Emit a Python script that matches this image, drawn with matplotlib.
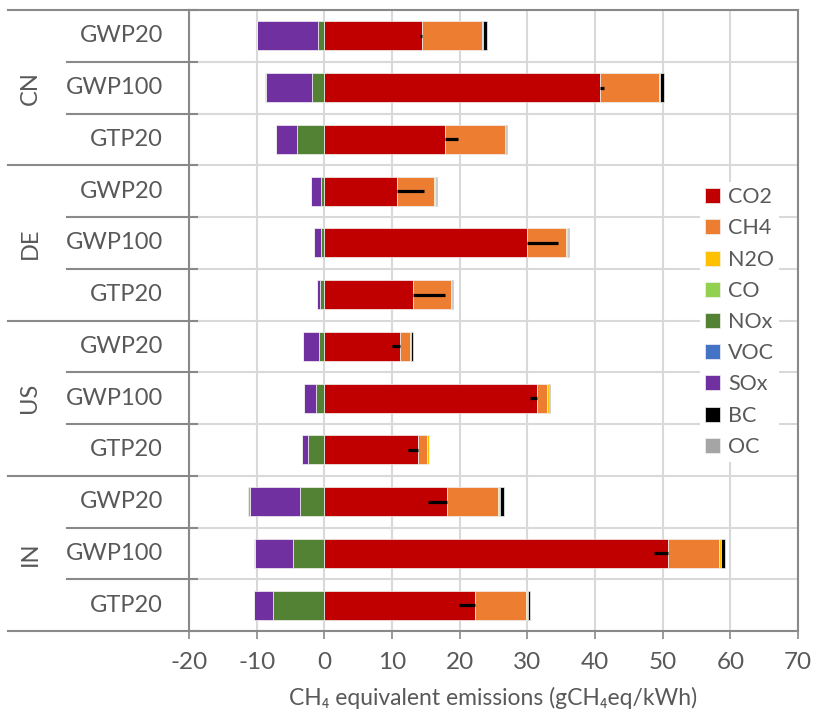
import matplotlib
matplotlib.use("Agg")
import matplotlib.pyplot as plt
import numpy as np
from matplotlib.lines import Line2D
from matplotlib.transforms import blended_transform_factory

plt.rcParams['font.family'] = ['Lato', 'DejaVu Sans']

groups = ["CN", "DE", "US", "IN"]
metrics = ["GWP20", "GWP100", "GTP20"]
series_names = ["CO2", "CH4", "N2O", "CO", "NOx", "VOC", "SOx", "BC", "OC"]
series_colors = ["#C00000", "#ED7D31", "#FFC000", "#92D050", "#548235",
                 "#4472C4", "#7030A0", "#000000", "#A5A5A5"]

# rows top to bottom: CN GWP20, CN GWP100, CN GTP20, DE ..., US ..., IN ...
co2 = [14.5, 40.7, 17.9, 10.7, 30.0, 13.15, 11.2, 31.4, 13.8, 18.1, 50.8, 22.3]
ch4 = [8.8, 8.8, 8.8, 5.5, 5.75, 5.5, 1.4, 1.5, 1.4, 7.55, 7.5, 7.55]
n2o = [0.05, 0.1, 0.05, 0.2, 0.15, 0.2, 0.15, 0.25, 0.2, 0.1, 0.25, 0.15]
co = [0.02, 0.02, 0.01, 0.03, 0.02, 0.02, 0.02, 0.02, 0.01, 0.1, 0.05, 0.02]
nox = [-0.89, -1.76, -3.98, -0.5, -0.55, -0.64, -0.79, -1.22, -2.4, -3.55, -4.62, -7.64]
voc = [0.03, 0.03, 0.02, 0.05, 0.04, 0.05, 0.03, 0.03, 0.02, 0.05, 0.05, 0.03]
sox = [-9.07, -6.85, -3.15, -1.42, -0.97, -0.44, -2.3, -1.78, -0.9, -7.38, -5.7, -2.7]
bc = [0.7, 0.55, 0.25, 0.2, 0.25, 0.15, 0.25, 0.15, 0.05, 0.7, 0.55, 0.3]
oc = [-0.05, -0.1, -0.05, -0.03, -0.03, -0.02, -0.03, -0.03, -0.02, -0.4, -0.1, -0.05]

err_minus = [0.4, 0, 0, 0, 0, 0, 1.2, 1.0, 1.5, 2.8, 2.05, 2.35]
err_plus = [0, 0.7, 1.85, 4.0, 4.6, 4.7, 0, 0, 0, 0, 0, 0]

xticks = [-20, -10, 0, 10, 20, 30, 40, 50, 60, 70]
xlabel = "CH\u2084 equivalent emissions (gCH\u2084eq/kWh)"

series_values = [co2, ch4, n2o, co, nox, voc, sox, bc, oc]

W, H = 818, 722
fig = plt.figure(figsize=(W / 100, H / 100), dpi=100)
ax = fig.add_axes([189 / W, 1 - 631 / H, (798 - 189) / W, (631 - 10) / H])

text_color = "#595959"
axis_color = "#898989"
grid_color = "#D9D9D9"

n = len(co2)
y = np.arange(n) + 0.5
pos_cum = np.zeros(n)
neg_cum = np.zeros(n)
for name, vals, col in zip(series_names, series_values, series_colors):
    vals = np.array(vals, dtype=float)
    left = np.where(vals >= 0, pos_cum, neg_cum)
    ax.barh(y, vals, left=left, height=0.56, color=col, label=name,
            edgecolor="#F2F2F2", linewidth=0.5, zorder=3)
    pos_cum = pos_cum + np.where(vals >= 0, vals, 0)
    neg_cum = neg_cum + np.where(vals < 0, vals, 0)

ax.errorbar(co2, y, xerr=[err_minus, err_plus], fmt="none", ecolor="black",
            elinewidth=2.3, capsize=0, zorder=5)

ax.set_xlim(-20, 70)
ax.set_ylim(n, 0)
ax.set_xticks(xticks)
ax.set_xticklabels([str(t) for t in xticks])
ax.set_yticks(np.arange(0, n + 1))
ax.set_yticklabels([])
ax.tick_params(axis="y", length=0)
ax.tick_params(axis="x", length=6, width=1.2, color=axis_color, colors=text_color,
               labelsize=17.5, pad=9, direction="out")
ax.xaxis.grid(True, color=grid_color, linewidth=1.5, zorder=0)
ax.yaxis.grid(True, color=grid_color, linewidth=1.5, zorder=0)
ax.set_axisbelow(True)
for s in ax.spines.values():
    s.set_color(axis_color)
    s.set_linewidth(1.5)

ax.set_xlabel(xlabel, fontsize=16.5, color=text_color, labelpad=10)

# category labels
trans = blended_transform_factory(ax.transAxes, ax.transData)
x_inner = (163 - 189) / (798 - 189)
x_group = (30 - 189) / (798 - 189)
for gi, g in enumerate(groups):
    for mi, m in enumerate(metrics):
        r = gi * 3 + mi
        ax.text(x_inner, r + 0.5, m, transform=trans, ha="right", va="center",
                fontsize=17, color=text_color)
    ax.text(x_group, gi * 3 + 1.5, g, transform=trans, ha="center", va="center",
            rotation=90, fontsize=17, color=text_color)

x_start_group = (8 - 189) / (798 - 189)
x_start_inner = (67 - 189) / (798 - 189)
x_end = (197 - 189) / (798 - 189)
for r in range(n + 1):
    xs = x_start_group if r % 3 == 0 else x_start_inner
    ax.add_line(Line2D([xs, x_end], [r, r], transform=trans, color=axis_color,
                       linewidth=1.5, clip_on=False, zorder=6))

leg = ax.legend(loc="center left", bbox_to_anchor=(700 / W, 1 - 322 / H),
                bbox_transform=fig.transFigure, frameon=True, fontsize=15.5,
                handlelength=0.7, handleheight=0.7, handletextpad=0.35,
                labelspacing=0.52, borderpad=0.25, borderaxespad=0)
leg.get_frame().set_facecolor("white")
leg.get_frame().set_edgecolor("none")
leg.get_frame().set_alpha(1)
for t in leg.get_texts():
    t.set_color(text_color)

fig.savefig("out.png", dpi=100)
